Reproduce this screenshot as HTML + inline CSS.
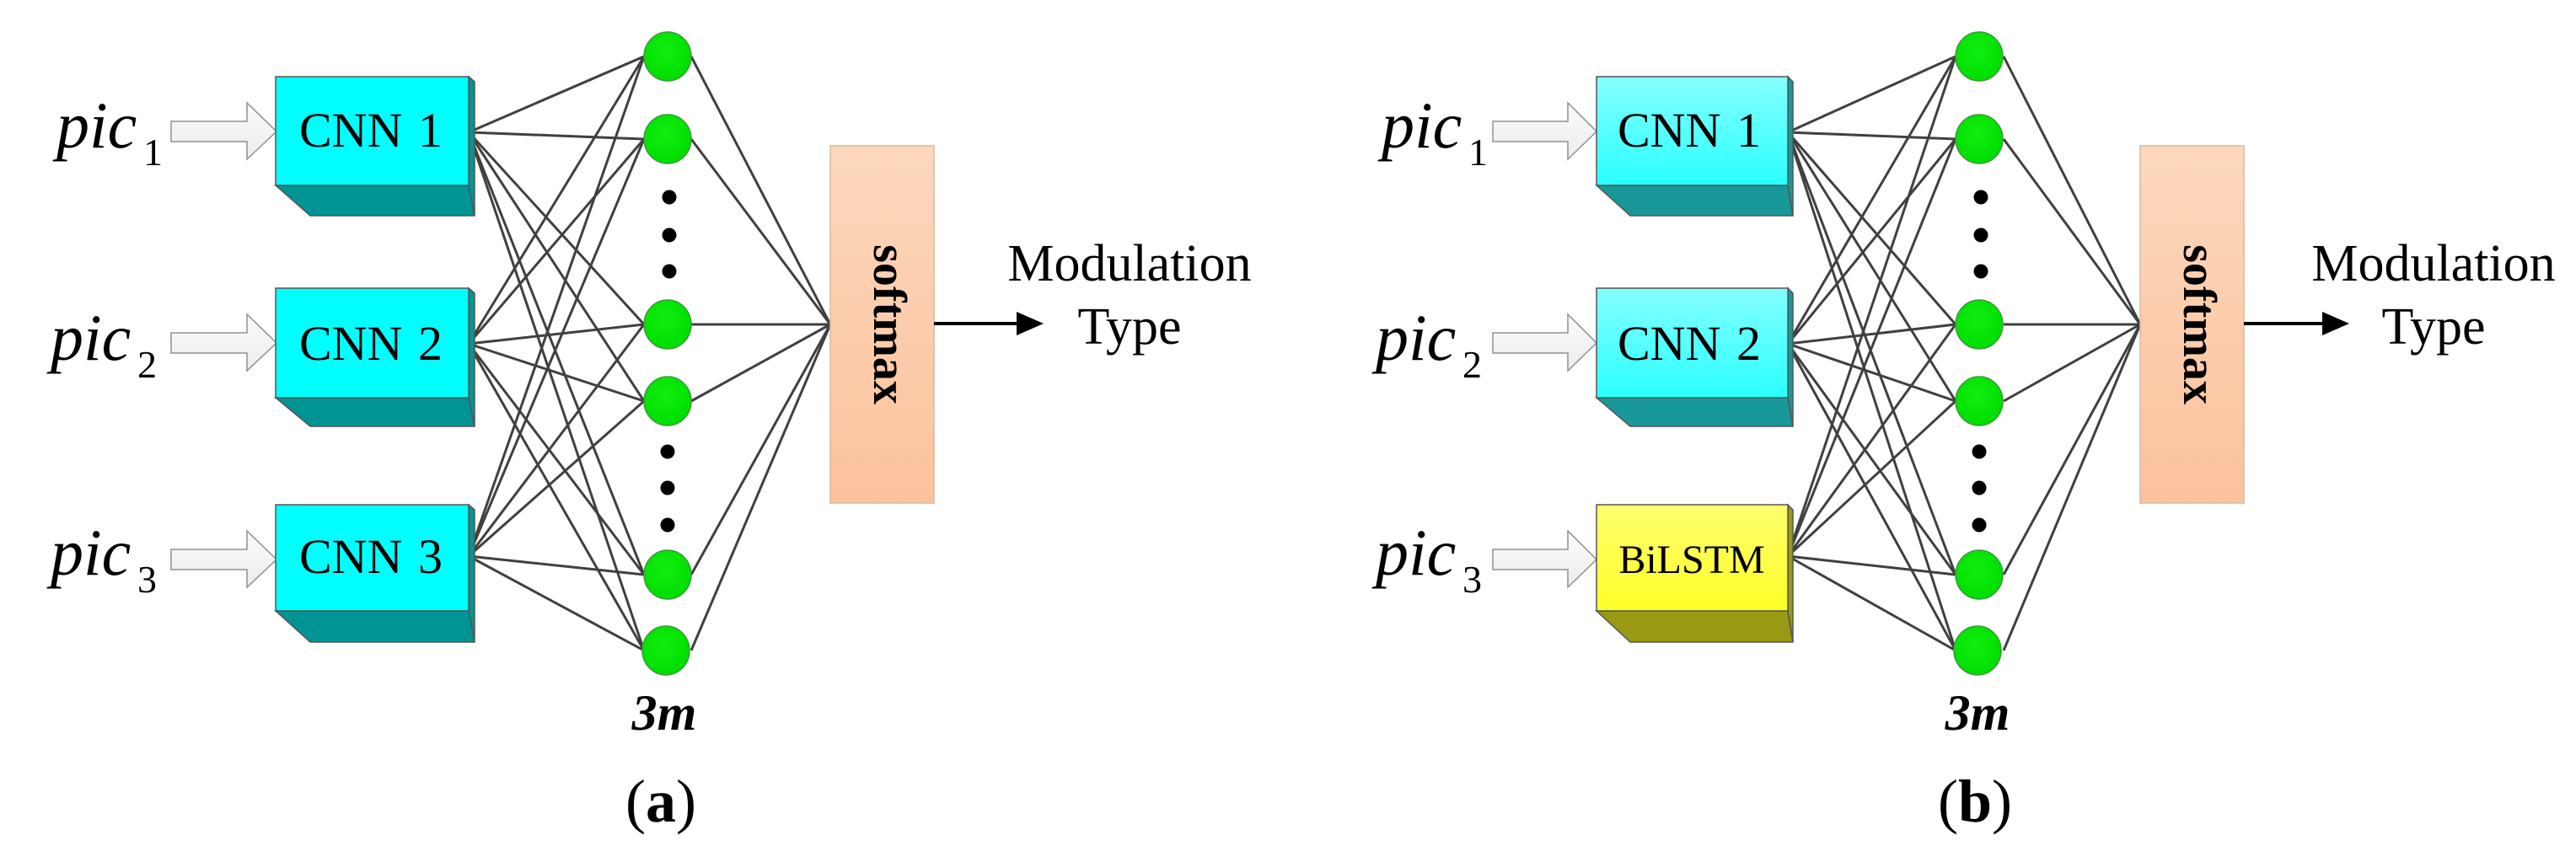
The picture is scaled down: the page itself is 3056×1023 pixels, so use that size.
<!DOCTYPE html>
<html><head><meta charset="utf-8"><style>
html,body{margin:0;padding:0;background:#fff;}
svg{display:block;}
text{font-family:"Liberation Serif",serif;}
</style></head><body>
<svg width="3056" height="1023" viewBox="0 0 3056 1023" xmlns="http://www.w3.org/2000/svg">
<defs>
<linearGradient id="arr" x1="0" y1="0" x2="0" y2="1"><stop offset="0" stop-color="#fbfbfb"/><stop offset="1" stop-color="#ececec"/></linearGradient>
<linearGradient id="sm" x1="0" y1="0" x2="0" y2="1"><stop offset="0" stop-color="#fdd8bd"/><stop offset="1" stop-color="#fbc29c"/></linearGradient>
<linearGradient id="cb" x1="0" y1="0" x2="0" y2="1"><stop offset="0" stop-color="#85ffff"/><stop offset="1" stop-color="#2bffff"/></linearGradient>
<linearGradient id="yb" x1="0" y1="0" x2="0" y2="1"><stop offset="0" stop-color="#ffff70"/><stop offset="1" stop-color="#ffff28"/></linearGradient>
<radialGradient id="nd" cx="0.45" cy="0.4" r="0.6"><stop offset="0" stop-color="#10f010"/><stop offset="1" stop-color="#00dd00"/></radialGradient>
</defs>

<!-- ========== PANEL A ========== -->
<g stroke="#404040" stroke-width="3" fill="none">
<line x1="556" y1="157" x2="764" y2="67"/><line x1="556" y1="157" x2="764" y2="165"/><line x1="556" y1="157" x2="764" y2="385"/><line x1="556" y1="157" x2="764" y2="476"/><line x1="556" y1="157" x2="764" y2="682"/><line x1="556" y1="157" x2="764" y2="772"/>
<line x1="556" y1="408" x2="764" y2="67"/><line x1="556" y1="408" x2="764" y2="165"/><line x1="556" y1="408" x2="764" y2="385"/><line x1="556" y1="408" x2="764" y2="476"/><line x1="556" y1="408" x2="764" y2="682"/><line x1="556" y1="408" x2="764" y2="772"/>
<line x1="556" y1="660" x2="764" y2="67"/><line x1="556" y1="660" x2="764" y2="165"/><line x1="556" y1="660" x2="764" y2="385"/><line x1="556" y1="660" x2="764" y2="476"/><line x1="556" y1="660" x2="764" y2="682"/><line x1="556" y1="660" x2="764" y2="772"/>
<line x1="820" y1="67" x2="985" y2="385"/><line x1="820" y1="165" x2="985" y2="385"/><line x1="820" y1="385" x2="985" y2="385"/><line x1="820" y1="476" x2="985" y2="385"/><line x1="820" y1="682" x2="985" y2="385"/><line x1="820" y1="772" x2="985" y2="385"/>
</g>
<!-- input arrows a -->
<g fill="url(#arr)" stroke="#909090" stroke-width="1.5">
<polygon points="203,144 293,144 293,122 328,156 293,189 293,168 203,168"/>
<polygon points="203,395 293,395 293,373 328,407 293,440 293,419 203,419"/>
<polygon points="203,652 293,652 293,630 328,664 293,697 293,676 203,676"/>
</g>
<!-- boxes a -->
<g stroke="#555" stroke-width="1.5">
<polygon points="327,220 556,220 563,256 368,256" fill="#009494"/><polygon points="556,91 563,97 563,256 556,220" fill="#009494"/><rect x="327" y="91" width="229" height="129" fill="#00ffff"/>
<polygon points="327,472 556,472 563,506 368,506" fill="#009494"/><polygon points="556,342 563,348 563,506 556,472" fill="#009494"/><rect x="327" y="342" width="229" height="130" fill="#00ffff"/>
<polygon points="327,725 556,725 563,762 368,762" fill="#009494"/><polygon points="556,599 563,605 563,762 556,725" fill="#009494"/><rect x="327" y="599" width="229" height="126" fill="#00ffff"/>
</g>
<g font-size="58" fill="#000">
<text x="355" y="174">CNN</text><text x="496" y="174">1</text>
<text x="355" y="427">CNN</text><text x="496" y="427">2</text>
<text x="355" y="680">CNN</text><text x="496" y="680">3</text>
</g>
<g fill="#000" font-style="italic">
<text x="67" y="175" font-size="78">pic</text><text x="170" y="196" font-size="46" font-style="normal">1</text>
<text x="60" y="427" font-size="78">pic</text><text x="163" y="448" font-size="46" font-style="normal">2</text>
<text x="60" y="682" font-size="78">pic</text><text x="163" y="703" font-size="46" font-style="normal">3</text>
</g>
<!-- nodes a -->
<g fill="url(#nd)" stroke="#3a9a3a" stroke-width="1.5">
<ellipse cx="792" cy="67" rx="28" ry="29"/><ellipse cx="792" cy="165" rx="28" ry="29"/><ellipse cx="792" cy="385" rx="28" ry="29"/><ellipse cx="792" cy="476" rx="28" ry="29"/><ellipse cx="792" cy="682" rx="28" ry="29"/><ellipse cx="790" cy="772" rx="28" ry="29"/>
</g>
<g fill="#000"><circle cx="794" cy="234" r="8.5"/><circle cx="794" cy="279" r="8.5"/><circle cx="794" cy="322" r="8.5"/><circle cx="792" cy="536" r="8.5"/><circle cx="792" cy="579" r="8.5"/><circle cx="792" cy="623" r="8.5"/></g>
<rect x="985" y="173" width="123" height="424" fill="url(#sm)" stroke="#d8b8a0" stroke-width="1.5"/>
<text transform="translate(1037,385) rotate(90)" text-anchor="middle" font-size="56" font-weight="bold" fill="#000">softmax</text>
<line x1="1108" y1="384" x2="1212" y2="384" stroke="#000" stroke-width="4"/>
<polygon points="1206,370 1238,384 1206,398" fill="#000"/>
<text x="1340" y="333" font-size="62" text-anchor="middle">Modulation</text>
<text x="1340" y="408" font-size="62" text-anchor="middle">Type</text>
<text x="788" y="866" font-size="60" font-weight="bold" font-style="italic" text-anchor="middle">3m</text>
<text x="784" y="975" font-size="72" text-anchor="middle">(<tspan font-weight="bold">a</tspan>)</text>

<!-- ========== PANEL B ========== -->
<g stroke="#404040" stroke-width="3" fill="none">
<line x1="2121" y1="157" x2="2320" y2="67"/><line x1="2121" y1="157" x2="2320" y2="165"/><line x1="2121" y1="157" x2="2320" y2="385"/><line x1="2121" y1="157" x2="2320" y2="476"/><line x1="2121" y1="157" x2="2320" y2="682"/><line x1="2121" y1="157" x2="2320" y2="772"/>
<line x1="2121" y1="408" x2="2320" y2="67"/><line x1="2121" y1="408" x2="2320" y2="165"/><line x1="2121" y1="408" x2="2320" y2="385"/><line x1="2121" y1="408" x2="2320" y2="476"/><line x1="2121" y1="408" x2="2320" y2="682"/><line x1="2121" y1="408" x2="2320" y2="772"/>
<line x1="2121" y1="660" x2="2320" y2="67"/><line x1="2121" y1="660" x2="2320" y2="165"/><line x1="2121" y1="660" x2="2320" y2="385"/><line x1="2121" y1="660" x2="2320" y2="476"/><line x1="2121" y1="660" x2="2320" y2="682"/><line x1="2121" y1="660" x2="2320" y2="772"/>
<line x1="2377" y1="67" x2="2539" y2="385"/><line x1="2377" y1="165" x2="2539" y2="385"/><line x1="2377" y1="385" x2="2539" y2="385"/><line x1="2377" y1="476" x2="2539" y2="385"/><line x1="2377" y1="682" x2="2539" y2="385"/><line x1="2377" y1="772" x2="2539" y2="385"/>
</g>
<g fill="url(#arr)" stroke="#909090" stroke-width="1.5">
<polygon points="1771,144 1860,144 1860,122 1894,156 1860,189 1860,168 1771,168"/>
<polygon points="1771,395 1860,395 1860,373 1894,407 1860,440 1860,419 1771,419"/>
<polygon points="1771,652 1860,652 1860,630 1894,664 1860,697 1860,676 1771,676"/>
</g>
<g stroke="#555" stroke-width="1.5">
<polygon points="1894,220 2121,220 2127,256 1934,256" fill="#189898"/><polygon points="2121,91 2127,97 2127,256 2121,220" fill="#189898"/><rect x="1894" y="91" width="227" height="129" fill="url(#cb)"/>
<polygon points="1894,472 2121,472 2127,506 1934,506" fill="#189898"/><polygon points="2121,342 2127,348 2127,506 2121,472" fill="#189898"/><rect x="1894" y="342" width="227" height="130" fill="url(#cb)"/>
<polygon points="1894,725 2121,725 2127,762 1934,762" fill="#999914"/><polygon points="2121,599 2127,605 2127,762 2121,725" fill="#999914"/><rect x="1894" y="599" width="227" height="126" fill="url(#yb)"/>
</g>
<g font-size="58" fill="#000">
<text x="1919" y="174">CNN</text><text x="2060" y="174">1</text>
<text x="1919" y="427">CNN</text><text x="2060" y="427">2</text>
<text x="2007" y="680" font-size="48" text-anchor="middle">BiLSTM</text>
</g>
<g fill="#000" font-style="italic">
<text x="1639" y="175" font-size="78">pic</text><text x="1742" y="196" font-size="46" font-style="normal">1</text>
<text x="1632" y="427" font-size="78">pic</text><text x="1735" y="448" font-size="46" font-style="normal">2</text>
<text x="1632" y="682" font-size="78">pic</text><text x="1735" y="703" font-size="46" font-style="normal">3</text>
</g>
<g fill="url(#nd)" stroke="#3a9a3a" stroke-width="1.5">
<ellipse cx="2348" cy="67" rx="28" ry="29"/><ellipse cx="2348" cy="165" rx="28" ry="29"/><ellipse cx="2348" cy="385" rx="28" ry="29"/><ellipse cx="2348" cy="476" rx="28" ry="29"/><ellipse cx="2348" cy="682" rx="28" ry="29"/><ellipse cx="2346" cy="772" rx="28" ry="29"/>
</g>
<g fill="#000"><circle cx="2350" cy="234" r="8.5"/><circle cx="2350" cy="279" r="8.5"/><circle cx="2350" cy="322" r="8.5"/><circle cx="2348" cy="536" r="8.5"/><circle cx="2348" cy="579" r="8.5"/><circle cx="2348" cy="623" r="8.5"/></g>
<rect x="2539" y="173" width="123" height="424" fill="url(#sm)" stroke="#d8b8a0" stroke-width="1.5"/>
<text transform="translate(2591,385) rotate(90)" text-anchor="middle" font-size="56" font-weight="bold" fill="#000">softmax</text>
<line x1="2662" y1="384" x2="2760" y2="384" stroke="#000" stroke-width="4"/>
<polygon points="2755,370 2787,384 2755,398" fill="#000"/>
<text x="2887" y="333" font-size="62" text-anchor="middle">Modulation</text>
<text x="2887" y="408" font-size="62" text-anchor="middle">Type</text>
<text x="2346" y="866" font-size="60" font-weight="bold" font-style="italic" text-anchor="middle">3m</text>
<text x="2343" y="975" font-size="72" text-anchor="middle">(<tspan font-weight="bold">b</tspan>)</text>
</svg>
</body></html>
